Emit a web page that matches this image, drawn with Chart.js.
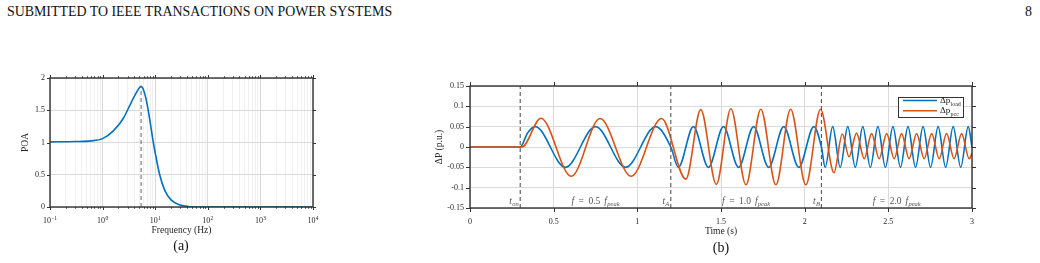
<!DOCTYPE html>
<html>
<head>
<meta charset="utf-8">
<script src="https://cdn.jsdelivr.net/npm/chart.js@4.4.1/dist/chart.umd.min.js"></script>
<style>
  html, body { margin: 0; padding: 0; background: #fff; }
  body { width: 1040px; height: 263px; position: relative; overflow: hidden;
         font-family: "Liberation Serif", "Times New Roman", serif; color: #111; }
  .txt { position: absolute; white-space: nowrap; }
  #hdr { left: 7px; top: 5px; font-size: 13.9px; line-height: 14px; }
  #pg  { left: 1025px; top: 5px; font-size: 13.9px; line-height: 14px; }
  .cap { font-size: 14px; line-height: 14px; width: 60px; text-align: center; }
  canvas { position: absolute; }
</style>
</head>
<body>
<div id="hdr" class="txt">SUBMITTED TO IEEE TRANSACTIONS ON POWER SYSTEMS</div>
<div id="pg" class="txt">8</div>
<canvas id="poa" width="330" height="196" style="left:0px;top:66px"></canvas>
<canvas id="dp" width="600" height="196" style="left:400px;top:66px"></canvas>
<div class="txt cap" style="left:151px;top:239px">(a)</div>
<div class="txt cap" style="left:691px;top:241px">(b)</div>
<script>
// ---- (a) POA vs frequency ----
const freqHz = [0.1, 0.3, 0.6, 1, 1.6, 2.5, 3.4, 4.3, 5.0, 5.4, 6.2, 7.0, 8.0, 9.0, 10, 12, 15, 20, 30, 45, 70, 10000];
const poa    = [1.01, 1.015, 1.025, 1.06, 1.18, 1.38, 1.60, 1.76, 1.85, 1.87, 1.78, 1.60, 1.32, 1.05, 0.84, 0.52, 0.27, 0.11, 0.03, 0.005, 0, 0];
const fPeak = 5.4;     // Hz, dashed marker
const poaPeak = 1.87;
const poaTicks = [0, 0.5, 1, 1.5, 2];
const freqExponents = ['\u22121', '0', '1', '2', '3', '4'];

// ---- (b) power deviation vs time: peaks / troughs ----
const loadT = [0, 0.3, 0.345, 0.39, 0.57, 0.75, 0.93, 1.11, 1.2,
  1.245, 1.335, 1.425, 1.515, 1.605, 1.695, 1.785, 1.875, 1.965, 2.055, 2.1,
  2.1225, 2.1675, 2.2125, 2.2575, 2.3025, 2.3475, 2.3925, 2.4375, 2.4825, 2.5275,
  2.5725, 2.6175, 2.6625, 2.7075, 2.7525, 2.7975, 2.8425, 2.8875, 2.9325, 2.9775, 3.0];
const loadP = [0, 0, 0.035, 0.05, -0.05, 0.05, -0.05, 0.05, 0,
  -0.05, 0.05, -0.05, 0.05, -0.05, 0.05, -0.05, 0.05, -0.05, 0.05, 0,
  -0.05, 0.05, -0.05, 0.05, -0.05, 0.05, -0.05, 0.05, -0.05, 0.05,
  -0.05, 0.05, -0.05, 0.05, -0.05, 0.05, -0.05, 0.05, -0.05, 0.05, 0];
const pccT = [0, 0.31, 0.424, 0.605, 0.777, 0.963, 1.145,
  1.29, 1.379, 1.472, 1.559, 1.649, 1.738, 1.828, 1.916, 2.007, 2.095,
  2.175, 2.225, 2.265, 2.31, 2.356, 2.4, 2.445, 2.49, 2.535, 2.579, 2.624,
  2.669, 2.714, 2.759, 2.804, 2.848, 2.893, 2.938, 2.983, 3.0];
const pccP = [0, 0, 0.0707, -0.072, 0.070, -0.072, 0.070,
  -0.079, 0.092, -0.092, 0.094, -0.093, 0.093, -0.093, 0.093, -0.093, 0.093,
  -0.063, 0.032, -0.024, 0.034, -0.029, 0.033, -0.029, 0.033, -0.029, 0.033, -0.029,
  0.033, -0.029, 0.033, -0.029, 0.033, -0.029, 0.033, -0.029, -0.015];
const timeTicks = [0, 0.5, 1, 1.5, 2, 2.5, 3];
const dpTicks = [-0.15, -0.1, -0.05, 0, 0.05, 0.1, 0.15];
const eventTimes = [0.3, 1.2, 2.1];
const eventNames = ['on', 'A', 'B'];
const freqFactors = ['0.5', '1.0', '2.0'];
const loadLabel = ['\u0394p', 'load'];
const pccLabel = ['\u0394p', 'pcc'];

const SERIF = '"Liberation Serif", "Times New Roman", serif';
const AXIS = '#333333';
const BLUE = '#0072BD', ORANGE = '#D95319';
Chart.defaults.font.family = SERIF;
Chart.defaults.color = '#262626';

const toXY = (xs, ys) => xs.map((v, i) => ({ x: v, y: ys[i] }));
const setTicks = arr => s => { s.ticks = arr.map(v => ({ value: v })); };

// minor grid positions of the log axis (1..9 x 10^n)
const logGrid = [];
for (let e = -1; e < 4; e++) for (let m = 1; m < 10; m++) logGrid.push(m * Math.pow(10, e));
logGrid.push(10000);
const isDecade = v => Math.abs(Math.log10(v) - Math.round(Math.log10(v))) < 1e-9;

// matlab-style box with outward ticks
function boxPlugin(id, xTicks, yTicks) {
  return {
    id,
    afterDatasetsDraw(chart) {
      const { ctx, chartArea: a, scales } = chart;
      ctx.save();
      ctx.strokeStyle = AXIS;
      ctx.lineWidth = 1;
      ctx.beginPath();
      xTicks.forEach(t => {
        const px = Math.round(scales.x.getPixelForValue(t.v)) + 0.5;
        ctx.moveTo(px, a.bottom); ctx.lineTo(px, a.bottom + t.len);
        ctx.moveTo(px, a.top); ctx.lineTo(px, a.top - t.len);
      });
      yTicks.forEach(t => {
        const py = Math.round(scales.y.getPixelForValue(t.v)) + 0.5;
        ctx.moveTo(a.left, py); ctx.lineTo(a.left - t.len, py);
        ctx.moveTo(a.right, py); ctx.lineTo(a.right + t.len, py);
      });
      ctx.stroke();
      ctx.lineWidth = 1.4;
      ctx.strokeRect(a.left, a.top, a.right - a.left, a.bottom - a.top);
      ctx.restore();
    }
  };
}

// draw a row of text runs: [text, font, dy, gapBefore]
function drawRuns(ctx, runs, x, y, align) {
  let w = 0;
  runs.forEach(r => { ctx.font = r[1]; w += (r[3] || 0) + ctx.measureText(r[0]).width; });
  let cx = align === 'right' ? x - w : align === 'center' ? x - w / 2 : x;
  runs.forEach(r => {
    ctx.font = r[1];
    cx += r[3] || 0;
    ctx.fillText(r[0], cx, y + (r[2] || 0));
    cx += ctx.measureText(r[0]).width;
  });
}

// (a) decade labels with superscripts
const decadeLabels = {
  id: 'decadeLabels',
  afterDraw(chart) {
    const { ctx, chartArea: a, scales: { x } } = chart;
    ctx.save();
    ctx.fillStyle = '#262626';
    ctx.textBaseline = 'alphabetic';
    freqExponents.forEach((ex, i) => {
      const px = x.getPixelForValue(Math.pow(10, i - 1));
      drawRuns(ctx, [['10', '8px ' + SERIF], [ex, '5.5px ' + SERIF, -3.5, 0.3]], px, a.bottom + 16, 'center');
    });
    ctx.restore();
  }
};

new Chart(document.getElementById('poa'), {
  type: 'line',
  data: {
    datasets: [
      { data: [{ x: fPeak, y: 0 }, { x: fPeak, y: poaPeak }], borderColor: '#666', borderWidth: 1,
        borderDash: [4, 3], pointRadius: 0, order: 0 },
      { data: toXY(freqHz, poa), borderColor: BLUE, borderWidth: 1.6, pointRadius: 0,
        cubicInterpolationMode: 'monotone', order: 1 }
    ]
  },
  options: {
    responsive: false, animation: false, events: [],
    layout: { padding: { top: 12, right: 17, left: 0, bottom: 0 } },
    plugins: { legend: { display: false }, tooltip: { enabled: false } },
    scales: {
      x: {
        type: 'logarithmic', min: 0.1, max: 10000,
        afterBuildTicks: setTicks(logGrid),
        afterFit: s => { s.height = 55; },
        ticks: { display: false },
        grid: { drawTicks: false, color: c => isDecade(c.tick.value) ? '#dadada' : '#f0f0f0' },
        border: { display: false },
        title: { display: true, text: 'Frequency (Hz)', font: { size: 9.5 }, padding: { top: 0, bottom: 25.5 } }
      },
      y: {
        min: 0, max: 2,
        afterBuildTicks: setTicks(poaTicks),
        afterFit: s => { s.width = 50; },
        ticks: { padding: 5, font: { size: 8 }, callback: v => String(v) },
        grid: { drawTicks: false, color: '#dadada' },
        border: { display: false },
        title: { display: true, text: 'POA', font: { size: 9.5 }, padding: { top: 20 } }
      }
    }
  },
  plugins: [
    boxPlugin('boxA', logGrid.map(v => ({ v, len: isDecade(v) ? 3 : 1.7 })), poaTicks.map(v => ({ v, len: 3 }))),
    decadeLabels
  ]
});

// (b) event labels and segment frequencies
const annotB = {
  id: 'annotB',
  afterDatasetsDraw(chart) {
    const { ctx, chartArea: a, scales: { x } } = chart;
    const IT = 'italic 9.5px ' + SERIF, SUB = 'italic 6.5px ' + SERIF, RM = '9.5px ' + SERIF;
    const base = a.bottom - 4.5;
    ctx.save();
    ctx.fillStyle = '#555';
    ctx.textBaseline = 'alphabetic';
    eventTimes.forEach((t, i) => {
      const px = x.getPixelForValue(t);
      drawRuns(ctx, [['t', IT], [eventNames[i], SUB, 2, 0.3]], px - 1.5, base, 'right');
      const end = i + 1 < eventTimes.length ? eventTimes[i + 1] : x.max;
      const mid = x.getPixelForValue((t + end) / 2);
      drawRuns(ctx, [['f', IT], ['=', RM, 0, 4.5], [freqFactors[i], RM, 0, 4.5], ['f', IT, 0, 4],
        ['peak', SUB, 2, 0.3]], mid, base, 'center');
    });
    ctx.restore();
  }
};

const legendB = {
  id: 'legendB',
  afterDraw(chart) {
    const { ctx, chartArea: a } = chart;
    const bw = 65, bh = 20;
    const bx = a.right - 9 - bw, by = a.top + 11;
    ctx.save();
    ctx.fillStyle = '#fff';
    ctx.fillRect(bx, by, bw, bh);
    ctx.strokeStyle = AXIS;
    ctx.lineWidth = 1;
    ctx.strokeRect(bx + 0.5, by + 0.5, bw, bh);
    [[loadLabel, BLUE], [pccLabel, ORANGE]].forEach(([lab, col], i) => {
      const ly = by + 3.5 + i * 10.3;
      ctx.strokeStyle = col;
      ctx.lineWidth = 1.6;
      ctx.beginPath(); ctx.moveTo(bx + 5, ly); ctx.lineTo(bx + 39, ly); ctx.stroke();
      ctx.fillStyle = '#262626';
      drawRuns(ctx, [[lab[0], '9px ' + SERIF], [lab[1], '6px ' + SERIF, 2.5, 0.2]], bx + 42, ly + 2.5, 'left');
    });
    ctx.restore();
  }
};

new Chart(document.getElementById('dp'), {
  type: 'line',
  data: {
    datasets: [
      ...eventTimes.map(t => ({ data: [{ x: t, y: -0.15 }, { x: t, y: 0.15 }], borderColor: '#555',
        borderWidth: 1.1, borderDash: [4, 3], pointRadius: 0, order: 0 })),
      { data: toXY(pccT, pccP), borderColor: ORANGE, borderWidth: 1.6, pointRadius: 0,
        cubicInterpolationMode: 'monotone', order: 1 },
      { data: toXY(loadT, loadP), borderColor: BLUE, borderWidth: 1.6, pointRadius: 0,
        cubicInterpolationMode: 'monotone', order: 2 }
    ]
  },
  options: {
    responsive: false, animation: false, events: [],
    layout: { padding: { top: 20, right: 28, left: 0, bottom: 0 } },
    plugins: { legend: { display: false }, tooltip: { enabled: false } },
    scales: {
      x: {
        type: 'linear', min: 0, max: 3,
        afterBuildTicks: setTicks(timeTicks),
        afterFit: s => { s.height = 54; },
        ticks: { padding: 9, font: { size: 8 }, maxRotation: 0, callback: v => String(v) },
        grid: { drawTicks: false, color: '#dadada' },
        border: { display: false },
        title: { display: true, text: 'Time (s)', font: { size: 9.5 }, padding: { top: 0, bottom: 25 } }
      },
      y: {
        min: -0.15, max: 0.15,
        afterBuildTicks: setTicks(dpTicks),
        afterFit: s => { s.width = 70; },
        ticks: { padding: 6, font: { size: 8 }, callback: v => String(v) },
        grid: { drawTicks: false, color: '#dadada' },
        border: { display: false },
        title: { display: true, text: '\u0394P (p.u.)', font: { size: 9.5 }, padding: { top: 34 } }
      }
    }
  },
  plugins: [
    boxPlugin('boxB', timeTicks.map(v => ({ v, len: 4 })), dpTicks.map(v => ({ v, len: 4 }))),
    annotB, legendB
  ]
});
</script>
</body>
</html>
